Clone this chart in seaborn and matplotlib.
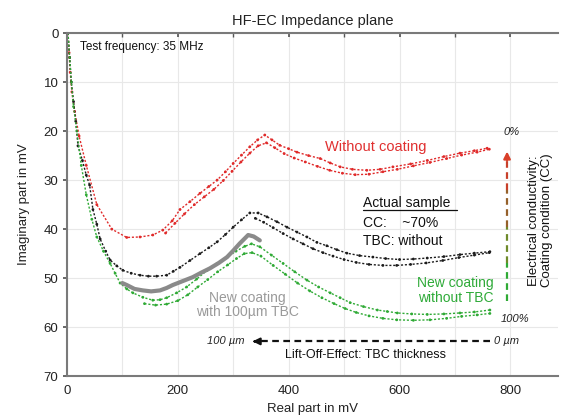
import numpy as np
import pandas as pd
import matplotlib
matplotlib.use("Agg")
import matplotlib.pyplot as plt
import seaborn as sns

# (real part x, imaginary part y, in mV)
red_a_x = [2, 4, 6, 9, 14, 22, 35, 54, 81, 108, 132, 155, 173, 190, 204, 222, 240, 256, 271, 286, 300,
           315, 330, 344, 357, 370, 384, 400, 415, 436, 457, 475, 493, 515, 541, 565, 588, 620, 650,
           680, 709, 735, 758]
red_a_y = [0, 4, 8, 12, 16, 21, 27, 35, 40, 41.7, 41.6, 41.2, 40.2, 38.3, 36.0, 34.4, 32.7, 31.3, 30.0,
           28.3, 26.6, 24.9, 23.2, 21.8, 20.8, 21.8, 22.9, 23.6, 24.3, 25.0, 25.6, 26.5, 27.3, 27.8,
           28.0, 27.8, 27.3, 26.7, 26.0, 25.2, 24.5, 24.0, 23.5]
red_b_x = [178, 195, 212, 230, 248, 265, 282, 298, 314, 330, 345, 360, 375, 392, 410, 430, 452, 474,
           497, 520, 545, 570, 596, 625, 655, 685, 712, 740, 762]
red_b_y = [40.8, 38.8, 36.9, 35.0, 33.4, 31.9, 30.1, 28.2, 26.3, 24.5, 23.0, 22.4, 23.4, 24.6, 25.5,
           26.3, 27.2, 28.0, 28.6, 28.9, 28.8, 28.3, 27.8, 27.1, 26.4, 25.6, 24.9, 24.3, 23.7]

black_a_x = [2, 5, 8, 12, 16, 20, 28, 35, 41, 47, 54, 60, 70, 78, 90, 101, 116, 132, 147, 162, 180,
             192, 204, 222, 240, 256, 271, 286, 300, 315, 330, 345, 361, 379, 397, 415, 433, 451, 469,
             487, 505, 528, 552, 575, 600, 625, 650, 680, 709, 735, 763]
black_a_y = [0, 5, 10, 14, 18, 23, 26, 29, 31, 36, 39, 42, 44.5, 46.3, 47.5, 48.4, 49.0, 49.4, 49.6,
             49.6, 49.4, 48.6, 47.8, 46.4, 45.0, 43.8, 42.6, 41.1, 39.6, 38.1, 36.7, 36.7, 37.5, 38.5,
             39.6, 40.6, 41.6, 42.7, 43.4, 44.2, 44.9, 45.4, 45.7, 46.0, 46.2, 46.1, 45.9, 45.6, 45.2,
             44.9, 44.6]
black_b_x = [340, 355, 372, 390, 408, 426, 444, 462, 480, 500, 522, 545, 570, 595, 620, 648, 678, 707,
             735, 762]
black_b_y = [37.8, 38.6, 39.7, 40.9, 42.0, 43.0, 44.0, 44.8, 45.5, 46.2, 46.8, 47.2, 47.4, 47.4, 47.2,
             46.9, 46.4, 45.8, 45.3, 44.8]

gray_x = [100, 108, 122, 137, 152, 168, 180, 191, 209, 227, 242, 258, 274, 289, 300, 312, 320, 327,
          337, 348]
gray_y = [51.0, 51.4, 52.2, 52.5, 52.7, 52.5, 52.0, 51.4, 50.6, 49.8, 48.9, 48.0, 46.9, 45.7, 44.4,
          42.9, 42.0, 41.2, 41.5, 42.3]

green_a_x = [2, 5, 8, 12, 18, 26, 35, 45, 54, 66, 78, 87, 96, 108, 119, 137, 155, 168, 180, 198, 216,
             234, 253, 271, 289, 305, 321, 333, 348, 369, 390, 411, 433, 454, 475, 493, 511, 535, 560,
             578, 596, 622, 650, 680, 709, 735, 763]
green_a_y = [0, 5, 10, 15, 20, 27, 33, 38, 41.6, 44.5, 47, 49, 51, 52.2, 53, 53.9, 54.5, 54.4, 54,
             53, 51.8, 50.2, 48.4, 47.0, 45.7, 44.5, 43.5, 43.0, 43.6, 45.3, 47.0, 48.7, 50.4, 51.8,
             53.0, 54.0, 55.0, 55.8, 56.5, 56.8, 57.1, 57.3, 57.4, 57.3, 57.1, 56.9, 56.5]
green_b_x = [140, 160, 180, 200, 218, 236, 254, 272, 290, 306, 320, 334, 350, 372, 394, 416, 438, 460,
             482, 502, 522, 545, 570, 595, 625, 655, 685, 712, 740, 763]
green_b_y = [55.2, 55.5, 55.3, 54.6, 53.4, 51.8, 50.3, 48.7, 47.3, 46.0, 45.0, 44.8, 45.5, 47.4, 49.2,
             51.0, 52.6, 54.0, 55.2, 56.2, 57.0, 57.7, 58.2, 58.5, 58.6, 58.5, 58.2, 57.8, 57.5, 57.2]

traces = [
    ("red", "red_a", red_a_x, red_a_y),
    ("red", "red_b", red_b_x, red_b_y),
    ("black", "black_a", black_a_x, black_a_y),
    ("black", "black_b", black_b_x, black_b_y),
    ("green", "green_a", green_a_x, green_a_y),
    ("green", "green_b", green_b_x, green_b_y),
]

COLORS = {"red": "#e02a2a", "black": "#1c1c1c", "green": "#2faa35", "gray": "#8a8a8a"}

rows = []
for series, trace, xs, ys in traces:
    for x, y in zip(xs, ys):
        rows.append({"series": series, "trace": trace, "x": x, "y": y})
df = pd.DataFrame(rows)
df_gray = pd.DataFrame({"series": "gray", "trace": "gray", "x": gray_x, "y": gray_y})

sns.set_theme(style="whitegrid")
plt.rcParams["font.family"] = ["Liberation Sans", "DejaVu Sans"]

fig = plt.figure(figsize=(5.62, 4.18), dpi=100)
ax = fig.add_axes([0.119, 0.100, 0.874, 0.821])

sns.lineplot(data=df, x="x", y="y", hue="series", units="trace", estimator=None, sort=False,
             palette=COLORS, legend=False, linewidth=1.0, linestyle=(0, (1.5, 1.3)), ax=ax)
sns.scatterplot(data=df, x="x", y="y", hue="series", palette=COLORS, legend=False,
                s=4, linewidth=0, ax=ax)
sns.lineplot(data=df_gray, x="x", y="y", color=COLORS["gray"], estimator=None, sort=False,
             linewidth=3.0, ax=ax)

ax.set_xlim(0, 886)
ax.set_ylim(70, 0)
ax.set_xticks([0, 200, 400, 600, 800])
ax.set_xticks(np.arange(0, 900, 100), minor=True)
ax.set_yticks(np.arange(0, 71, 10))
ax.grid(True, which="both", color="#e8e8e8", linewidth=0.8)
ax.tick_params(which="both", length=3, color="#555555", labelsize=9.5, labelcolor="#222222",
               left=True, bottom=False, top=True, direction="in", pad=6)
ax.tick_params(axis="y", direction="out", pad=3)
ax.set_facecolor("white")
for side in ["left", "bottom", "top"]:
    ax.spines[side].set_color("#7a7a7a")
    ax.spines[side].set_linewidth(1.5)
ax.spines["right"].set_visible(False)

ax.set_xlabel("Real part in mV", fontsize=9.5, color="#222222", labelpad=5)
ax.set_ylabel("Imaginary part in mV", fontsize=9.5, color="#222222", labelpad=10)
ax.set_title("HF-EC Impedance plane", fontsize=10.5, color="#222222", pad=6)

ax.text(23, 2.9, "Test frequency: 35 MHz", fontsize=8.5, va="center", color="#111111")
ax.text(558, 23.3, "Without coating", fontsize=10.5, color="#e03030", ha="center", va="center")

ax.text(534, 34.7, "Actual sample", fontsize=10, va="center", color="#111111")
ax.plot([534, 704], [36.2, 36.2], color="#111111", linewidth=0.9)
ax.text(534, 38.8, "CC:    ~70%", fontsize=10, va="center", color="#111111")
ax.text(534, 42.4, "TBC: without", fontsize=10, va="center", color="#111111")

ax.text(769, 52.5, "New coating\nwithout TBC", fontsize=10, color="#2eaa38", ha="right",
        va="center", multialignment="right", linespacing=1.05)
ax.text(325, 55.5, "New coating\nwith 100µm TBC", fontsize=10, color="#9a9a9a", ha="center",
        va="center", linespacing=1.05)

# vertical arrow: coating condition, green -> red
seg_y = [54.7, 47.0, 39.5, 32.0, 26.0]
seg_c = ["#2faa35", "#6e8a2a", "#95602a", "#c8402a"]
for (y0, y1), c in zip(zip(seg_y[:-1], seg_y[1:]), seg_c):
    ax.plot([794, 794], [y0, y1], color=c, linewidth=1.6, linestyle=(0, (3, 2)))
ax.annotate("", xy=(794, 23.6), xytext=(794, 26.5),
            arrowprops=dict(arrowstyle="-|>", color="#d9402a", lw=1.6, mutation_scale=10))
ax.text(803, 20.2, "0%", fontsize=8, style="italic", ha="center", va="center", color="#222222")
ax.text(808, 58.4, "100%", fontsize=8, style="italic", ha="center", va="center", color="#222222")
ax.text(855, 38.2, "Electrical conductivity:\nCoating condition (CC)", fontsize=9.5,
        rotation=90, ha="center", va="center", color="#111111", linespacing=1.1)

# horizontal arrow: lift-off
ax.plot([763, 342], [62.9, 62.9], color="#111111", linewidth=1.6, linestyle=(0, (3, 2)))
ax.annotate("", xy=(330, 62.9), xytext=(345, 62.9),
            arrowprops=dict(arrowstyle="-|>", color="#111111", lw=1.6, mutation_scale=10))
ax.text(320, 62.9, "100 µm", fontsize=8, style="italic", ha="right", va="center", color="#222222")
ax.text(771, 62.9, "0 µm", fontsize=8, style="italic", ha="left", va="center", color="#222222")
ax.text(538, 65.7, "Lift-Off-Effect: TBC thickness", fontsize=9, ha="center", va="center",
        color="#111111")

fig.savefig("out.png", dpi=100)
